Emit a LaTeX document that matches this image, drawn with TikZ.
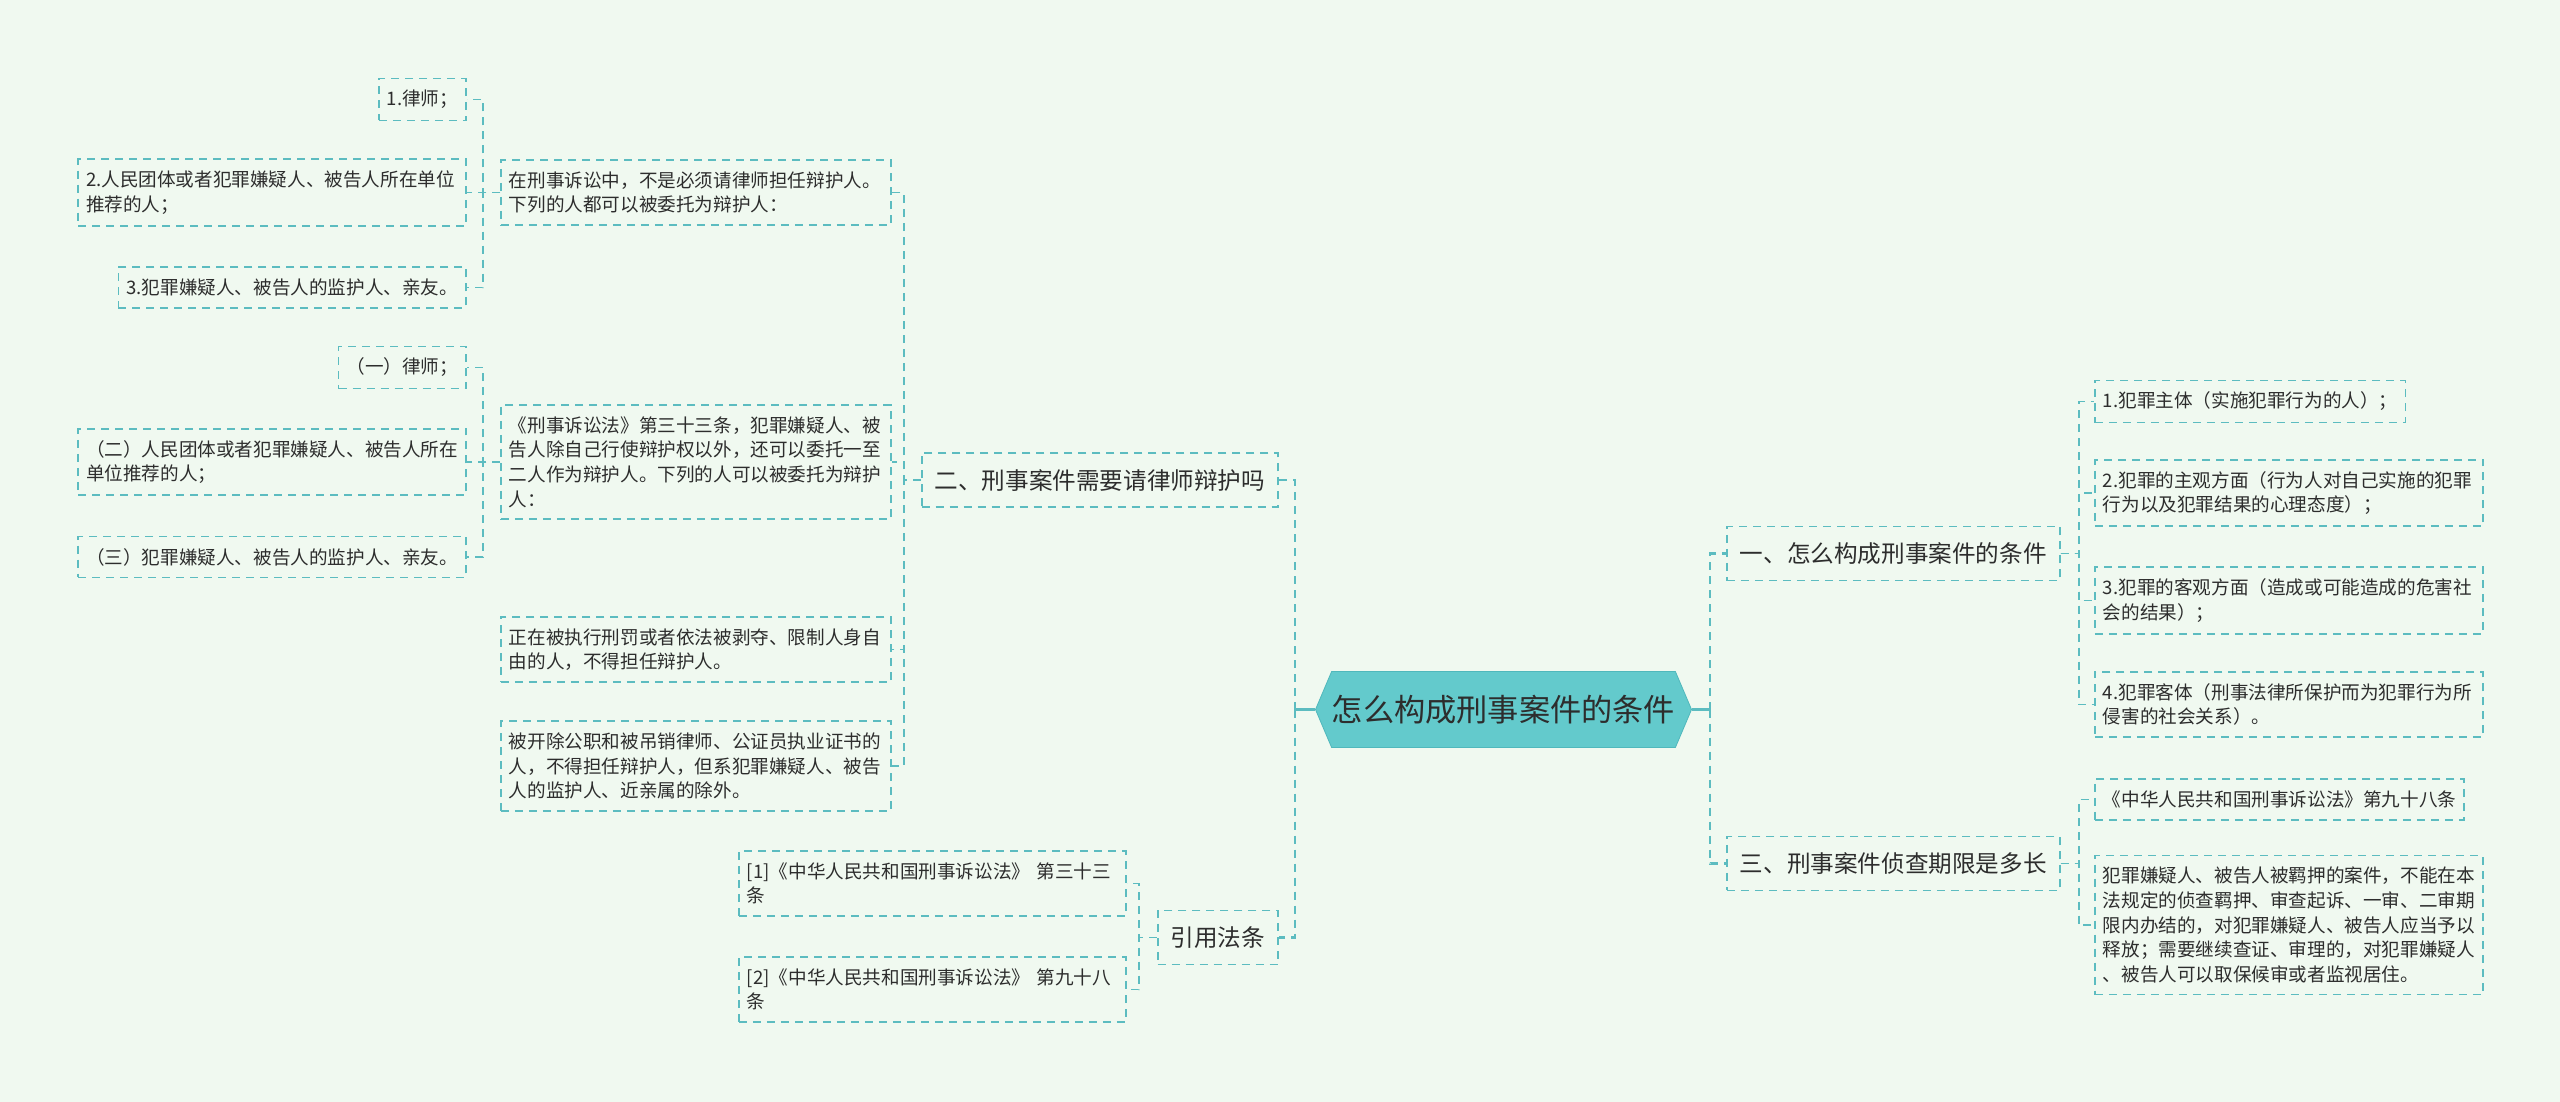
\documentclass[tikz,border=0pt]{standalone}
\usepackage{fontspec}
\setmainfont{Noto Sans CJK SC}
\usetikzlibrary{shapes.symbols}

\definecolor{bgcol}{RGB}{240,249,240}
\definecolor{linecol}{RGB}{92,188,192}
\definecolor{rootfill}{RGB}{99,202,204}
\definecolor{rootline}{RGB}{80,184,188}
\definecolor{txt}{RGB}{45,45,45}

\begin{document}
\begin{tikzpicture}[x=0.5pt, y=-0.5pt,
        main/.style = {draw=rootline, fill=rootfill, signal, signal to=west and east, signal pointer angle=134, minimum width=188pt, minimum height=38pt, inner xsep=0pt, font=\fontsize{15.6}{19}\selectfont, text=txt},
        sub/.style = {draw=linecol, dash pattern=on 4pt off 3pt, line width=0.9pt, inner xsep=6.5pt, inner ysep=8pt, font=\fontsize{11.8}{14}\selectfont, text=txt},
        leaf/.style = {draw=linecol, dash pattern=on 4pt off 3pt, line width=0.9pt, inner xsep=4pt, inner ysep=5.8pt, align=left, font=\fontsize{9.3}{12.3}\selectfont, text=txt},
        link/.style = {draw=linecol, dash pattern=on 4pt off 3pt, line width=0.9pt},
        bus/.style = {draw=linecol, dash pattern=on 4pt off 3pt, line width=1.3pt},
        trunk/.style = {draw=linecol, line width=1.3pt}]
        \fill[bgcol] (0,0) rectangle (2560,1102);
        \useasboundingbox (0,0) rectangle (2560,1102);

        \node[main] (root) at (1503.5,709.5) {怎么构成刑事案件的条件};

        % left side
        \node[sub, anchor=east] (q2) at (1279,480) {二、刑事案件需要请律师辩护吗};
        \node[sub, anchor=east] (ref) at (1279,937.5) {引用法条};

        \node[leaf, anchor=west, text width=187pt] (A) at (500,192.5) {在刑事诉讼中，不是必须请律师担任辩护人。\\下列的人都可以被委托为辩护人：};
        \node[leaf, anchor=west, text width=187pt] (B) at (500,462) {《刑事诉讼法》第三十三条，犯罪嫌疑人、被\\告人除自己行使辩护权以外，还可以委托一至\\二人作为辩护人。下列的人可以被委托为辩护\\人：};
        \node[leaf, anchor=west, text width=187pt] (C) at (500,649.5) {正在被执行刑罚或者依法被剥夺、限制人身自\\由的人，不得担任辩护人。};
        \node[leaf, anchor=west, text width=187pt] (D) at (500,766) {被开除公职和被吊销律师、公证员执业证书的\\人，不得担任辩护人，但系犯罪嫌疑人、被告\\人的监护人、近亲属的除外。};

        \node[leaf, anchor=east] (a1) at (467,99.5) {1.律师；};
        \node[leaf, anchor=east, text width=186pt] (a2) at (467,192.5) {2.人民团体或者犯罪嫌疑人、被告人所在单位\\推荐的人；};
        \node[leaf, anchor=east] (a3) at (467,287.5) {3.犯罪嫌疑人、被告人的监护人、亲友。};

        \node[leaf, anchor=east] (b1) at (467,367.5) {（一）律师；};
        \node[leaf, anchor=east, text width=186pt] (b2) at (467,462) {（二）人民团体或者犯罪嫌疑人、被告人所在\\单位推荐的人；};
        \node[leaf, anchor=east] (b3) at (467,557) {（三）犯罪嫌疑人、被告人的监护人、亲友。};

        \node[leaf, anchor=west, text width=185.5pt] (r1) at (738,883.5) {[1]《中华人民共和国刑事诉讼法》 第三十三\\条};
        \node[leaf, anchor=west, text width=185.5pt] (r2) at (738,989.5) {[2]《中华人民共和国刑事诉讼法》 第九十八\\条};

        % right side
        \node[sub, anchor=west] (q1) at (1726,553.5) {一、怎么构成刑事案件的条件};
        \node[sub, anchor=west] (q3) at (1726,863.5) {三、刑事案件侦查期限是多长};

        \node[leaf, anchor=west] (c1) at (2094,401.5) {1.犯罪主体（实施犯罪行为的人）；};
        \node[leaf, anchor=west, text width=186pt] (c2) at (2094,493) {2.犯罪的主观方面（行为人对自己实施的犯罪\\行为以及犯罪结果的心理态度）；};
        \node[leaf, anchor=west, text width=186pt] (c3) at (2094,600.5) {3.犯罪的客观方面（造成或可能造成的危害社\\会的结果）；};
        \node[leaf, anchor=west, text width=186pt] (c4) at (2094,704.5) {4.犯罪客体（刑事法律所保护而为犯罪行为所\\侵害的社会关系）。};

        \node[leaf, anchor=west] (d1) at (2094,799.5) {《中华人民共和国刑事诉讼法》第九十八条};
        \node[leaf, anchor=west, text width=186pt] (d2) at (2094,925) {犯罪嫌疑人、被告人被羁押的案件，不能在本\\法规定的侦查羁押、审查起诉、一审、二审期\\限内办结的，对犯罪嫌疑人、被告人应当予以\\释放；需要继续查证、审理的，对犯罪嫌疑人\\、被告人可以取保候审或者监视居住。};

        % connectors
        \draw[trunk] (root.west) -- ++(-20,0) coordinate (lbus);
        \draw[bus] (lbus) |- (q2.east);
        \draw[bus] (lbus) |- (ref.east);
        \draw[trunk] (root.east) -- ++(18,0) coordinate (rbus);
        \draw[bus] (rbus) |- (q1.west);
        \draw[bus] (rbus) |- (q3.west);

        \foreach \n in {A,B,C,D}
            \draw[link] (q2.west) -- ++(-17,0) |- (\n.east);
        \foreach \n in {a1,a2,a3}
            \draw[link] (A.west) -- ++(-17,0) |- (\n.east);
        \foreach \n in {b1,b2,b3}
            \draw[link] (B.west) -- ++(-17,0) |- (\n.east);
        \foreach \n in {r1,r2}
            \draw[link] (ref.west) -- ++(-18,0) |- (\n.east);
        \foreach \n in {c1,c2,c3,c4}
            \draw[link] (q1.east) -- ++(18,0) |- (\n.west);
        \foreach \n in {d1,d2}
            \draw[link] (q3.east) -- ++(18,0) |- (\n.west);
\end{tikzpicture}
\end{document}
